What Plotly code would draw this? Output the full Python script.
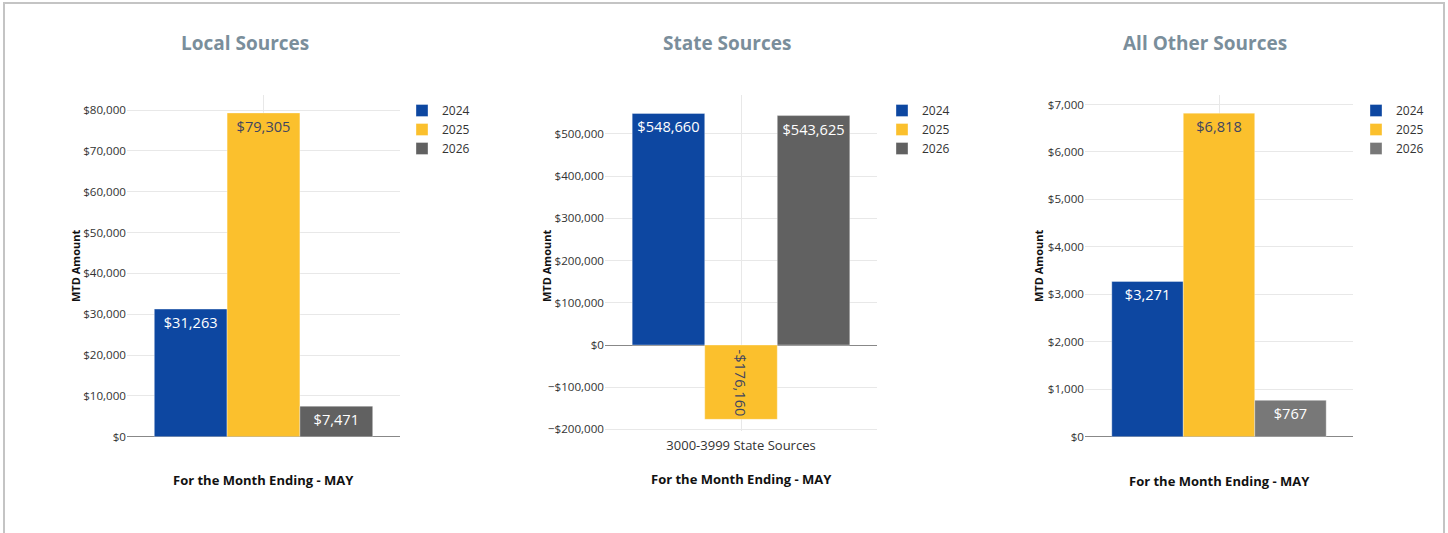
import plotly.graph_objects as go

W, H = 1448, 533

years = ["2024", "2025", "2026"]
panel_titles = ["Local Sources", "State Sources", "All Other Sources"]
categories = [["Local Sources"], ["3000-3999 State Sources"], ["All Other Sources"]]
local_values = [31263, 79305, 7471]
state_values = [548660, -176160, 543625]
other_values = [3271, 6818, 767]
panel_values = [local_values, state_values, other_values]
x_title = "For the Month Ending - MAY"
y_title = "MTD Amount"

blue = "#0D47A1"
yellow = "#FBC02D"
gray_dark = "#616161"
gray_light = "#787878"
panel_colors = [
    [blue, yellow, gray_dark],
    [blue, yellow, gray_dark],
    [blue, yellow, gray_light],
]
text_colors = ["#ffffff", "#3f4560", "#ffffff"]


def fx(px):
    return px / W


def fy(py):
    return 1 - py / H


def money(v):
    return ("-$" if v < 0 else "$") + f"{abs(v):,}"


# layout geometry (pixels)
x_domains = [(127, 400), (605, 877), (1085, 1353)]
y_domains = [(436.7, 95), (431, 95), (436.7, 95)]
y_ranges = [[0, 83700], [-203800, 592400], [0, 7200]]
legend_x = [402, 882, 1356]
title_x = [245, 727, 1205]
ytitle_x = [75, 546, 1038]
xtitle_pos = [(263, 480), (741, 479), (1219, 481)]

fig = go.Figure()

for p in range(3):
    sfx = "" if p == 0 else str(p + 1)
    for i, yr in enumerate(years):
        v = panel_values[p][i]
        fig.add_trace(go.Bar(
            x=categories[p],
            y=[v],
            name=yr,
            text=[money(v)],
            textposition="inside",
            insidetextanchor="end",
            textangle=90 if v < 0 else 0,
            textfont=dict(size=14.6, color=text_colors[i], family="Open Sans"),
            marker=dict(color=panel_colors[p][i],
                        line=dict(width=1, color="rgba(255,255,255,0.35)")),
            xaxis="x" + sfx,
            yaxis="y" + sfx,
            legend="legend" + sfx,
            cliponaxis=False,
        ))

layout = dict(
    width=W, height=H,
    margin=dict(l=0, r=0, t=0, b=0),
    paper_bgcolor="white",
    plot_bgcolor="white",
    template="none",
    barmode="group",
    bargap=0.2,
    bargroupgap=0,
    font=dict(family="Open Sans", color="#333"),
    showlegend=True,
)

for p in range(3):
    sfx = "" if p == 0 else str(p + 1)
    x0, x1 = x_domains[p]
    yb, yt = y_domains[p]
    layout["xaxis" + sfx] = dict(
        domain=[fx(x0), fx(x1)],
        anchor="y" + sfx,
        type="category",
        showgrid=True,
        gridcolor="#e8e8e8",
        showline=False,
        zeroline=False,
        ticks="",
        showticklabels=(p == 1),
        ticklabelstandoff=5,
        tickfont=dict(size=13, color="#333"),
    )
    layout["yaxis" + sfx] = dict(
        domain=[fy(yb), fy(yt)],
        anchor="x" + sfx,
        range=y_ranges[p],
        tickformat="$,.0f",
        showgrid=True,
        gridcolor="#e8e8e8",
        zeroline=True,
        zerolinecolor="#888888",
        zerolinewidth=1,
        showline=False,
        ticks="",
        tickfont=dict(size=11.6, color="#333"),
    )
    layout["legend" + sfx] = dict(
        x=fx(legend_x[p]), y=fy(96), xanchor="left", yanchor="top",
        font=dict(size=12, color="#333"),
        bgcolor="rgba(0,0,0,0)",
        tracegroupgap=0,
    )

annotations = []
for p in range(3):
    annotations.append(dict(
        text="<b>" + panel_titles[p] + "</b>", x=fx(title_x[p]), y=fy(43),
        xref="paper", yref="paper", showarrow=False,
        xanchor="center", yanchor="middle",
        font=dict(size=19, color="#7a8e9b", family="Open Sans"),
    ))
    annotations.append(dict(
        text="<b>" + y_title + "</b>", x=fx(ytitle_x[p]), y=fy(266),
        xref="paper", yref="paper", showarrow=False, textangle=-90,
        xanchor="center", yanchor="middle",
        font=dict(size=11, color="#111", family="Open Sans"),
    ))
    annotations.append(dict(
        text="<b>" + x_title + "</b>", x=fx(xtitle_pos[p][0]), y=fy(xtitle_pos[p][1]),
        xref="paper", yref="paper", showarrow=False,
        xanchor="center", yanchor="middle",
        font=dict(size=13, color="#111", family="Open Sans"),
    ))
layout["annotations"] = annotations

layout["shapes"] = [dict(
    type="rect", xref="paper", yref="paper",
    x0=fx(4), x1=fx(1444), y0=fy(560), y1=fy(3),
    line=dict(color="#c4c4c4", width=2), fillcolor="rgba(0,0,0,0)", layer="below",
)]

fig.update_layout(**layout)
fig.write_html("out.html")
